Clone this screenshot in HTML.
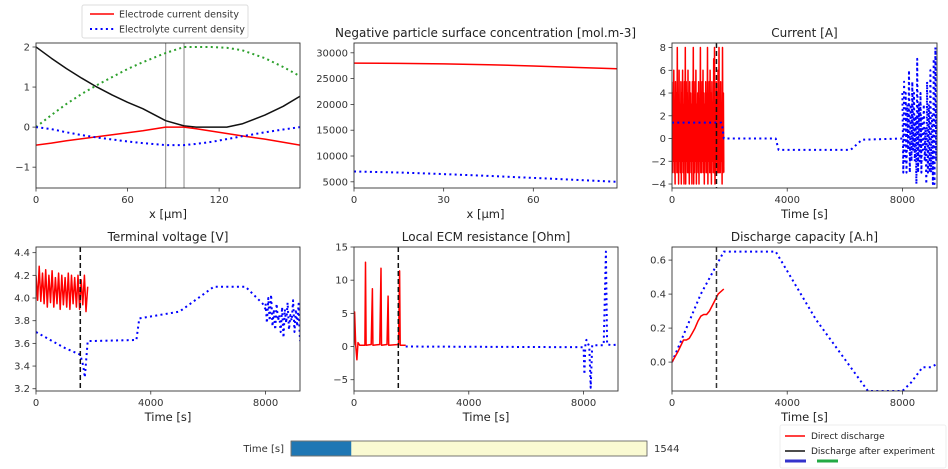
<!DOCTYPE html>
<html><head><meta charset="utf-8"><style>
body{margin:0;background:#fff;}
svg{display:block;font-family:"DejaVu Sans","Liberation Sans",sans-serif;}
</style></head><body>
<svg id="fig" width="948" height="469" viewBox="0 0 948 469"></svg>
<script>
// ---- data ----
const p1X=[0,10,20,30,40,50,60,70,85,97,105,115,125,135,150,162,173];
const p1Black=[2,1.72,1.46,1.22,1.0,0.8,0.62,0.46,0.16,0.03,0,0,0,0.08,0.3,0.52,0.77];
const p1Green=[0,0.3,0.58,0.83,1.05,1.25,1.45,1.62,1.85,2,2,2,1.98,1.92,1.72,1.5,1.27];
const p1Red=[-0.45,-0.4,-0.34,-0.29,-0.24,-0.19,-0.14,-0.09,0,0,-0.04,-0.1,-0.16,-0.22,-0.3,-0.38,-0.45];
const p1Blue=[0,-0.05,-0.13,-0.2,-0.26,-0.31,-0.36,-0.4,-0.45,-0.45,-0.42,-0.37,-0.3,-0.23,-0.13,-0.06,0];
const p1VLines=[85,97];
const p2X=[0,15,30,45,60,75,88];
const p2Red=[28000,27950,27850,27700,27450,27150,26900];
const p2Blue=[7000,6800,6500,6150,5750,5350,5000];
const curRed=[5,-3,4,-2,6,-3,3,-4,5,-2,4,-3,8,-3,2,-4,6,-2,3,-3,5,-4,4,-2,6,-3,3,-4,5,-2,8,-4,5,-2,4,-3,6,-3,3,-4,5,-2,4,-3,3,-4,5,-2,8,-4,2,-3,5,-2,6,-4,3,-2,4,-3,5,-4,3,-2,8,-3,4,-3,5,-2,6,-3,4,-4,3,-2,5,-3,4,-3,8,-4,3,-2,5,-3,6,-3,4,-4,5,-2,3,-3,7,-3,8,-4,3,-3,5,-2,4,-3,6,-3,8,-3,4,-3,5,-2,3,-4,8,-3,4,-3];
const curBlueT=[0,1700,1750,1800,3600,3700,6200,6600,8000];
const curBlueV=[1.4,1.4,1.0,0,0,-1,-1,-0.1,0];
const curBlueNoise=[4,-3,5,-2,4,-3,3,-1,6,-3,3,-2,5,-1,4,-2,2,-4,7,-3,3,-2,4,-3,2,-1,3,-2,1,-4,5,-3,3,-3,6,-3,2,-4,7,-4,8,-2,3];
const vRed=[4.2,3.98,4.28,3.97,4.22,3.95,4.25,3.92,4.2,3.96,4.24,3.92,4.18,3.95,4.22,3.9,4.2,3.94,4.18,3.92,4.22,3.9,4.2,3.95,4.18,3.92,4.2,3.9,4.16,3.94,4.2,3.88,4.1];
const vBlueT=[0,500,1000,1544,1650,1700,1800,3500,3600,5000,6200,7300,7900,8000];
const vBlueV=[3.7,3.63,3.56,3.5,3.4,3.3,3.62,3.63,3.82,3.88,4.1,4.1,3.95,3.9];
const vBlueNoise=[3.95,3.78,4.0,3.8,4.03,3.75,3.9,3.72,3.95,3.8,3.85,3.7,3.92,3.65,3.9,3.78,3.96,3.72,3.85,3.8,3.98,3.7,3.9,3.75,3.95,3.62];
const ecmRedT=[0,20,60,100,140,200,380,400,420,600,640,660,900,940,960,1150,1190,1210,1550,1590,1610,1800];
const ecmRedV=[0.2,5.2,0.2,-2,0.6,0.2,0.2,12.7,0.2,0.3,8.7,0.2,0.3,11.8,0.2,0.3,7.6,0.2,0.3,11.4,0.2,0.2];
const ecmBlueT=[1800,8000,8030,8060,8100,8200,8250,8300,8700,8780,8820,9000,9200];
const ecmBlueV=[0,-0.1,-4.2,0.1,1.0,0,-6.2,0.2,0.2,14.3,0.3,0.2,0.3];
const capBlueT=[0,500,1000,1544,1800,3600,5000,6800,8000,8300,8700,9000,9200];
const capBlueV=[0,0.2,0.4,0.57,0.65,0.65,0.25,-0.17,-0.17,-0.12,-0.03,-0.03,-0.01];
const capRedT=[0,200,400,500,600,700,800,900,1000,1100,1200,1300,1450,1600,1800];
const capRedV=[0,0.06,0.13,0.13,0.14,0.17,0.2,0.24,0.27,0.28,0.28,0.3,0.35,0.4,0.43];
const cutTime=1544;
const tMax=9200;

const NS="http://www.w3.org/2000/svg";
const fig=document.getElementById('fig');
function mk(tag,attrs,parent,text){const e=document.createElementNS(NS,tag);for(const k in attrs)e.setAttribute(k,attrs[k]);if(text!==undefined)e.textContent=text;(parent||fig).appendChild(e);return e;}

function panel(name,x0,y0,x1,y1,xmin,xmax,ymin,ymax,xt,yt,title,xlabel){
  const g=mk('g',{});
  
  
  const sx=v=>x0+(v-xmin)/(xmax-xmin)*(x1-x0);
  const sy=v=>y1-(v-ymin)/(ymax-ymin)*(y1-y0);
  const cid='c'+name;
  const cp=mk('clipPath',{id:cid},g);mk('rect',{x:x0,y:y0,width:x1-x0,height:y1-y0},cp);
  const plot=mk('g',{'clip-path':'url(#'+cid+')'},g);
  xt.forEach(t=>{const x=sx(t);mk('line',{x1:x,x2:x,y1:y1,y2:y1+3.5,stroke:'#333','stroke-width':0.8},g);
    const tx=mk('text',{x:x,y:y1+15,'font-size':10,'text-anchor':'middle',fill:'#333'},g,String(t));
    });
  yt.forEach(t=>{const y=sy(t);mk('line',{x1:x0-3.5,x2:x0,y1:y,y2:y,stroke:'#333','stroke-width':0.8},g);
    const tx=mk('text',{x:x0-6,y:y+3.5,'font-size':10,'text-anchor':'end',fill:'#333'},g,String(t).replace('-','\u2212'));
    });
  const tt=mk('text',{x:(x0+x1)/2,y:y0-6,'font-size':12,'text-anchor':'middle',fill:'#222'},g,title);
  
  if(xlabel){const xl=mk('text',{x:(x0+x1)/2,y:y1+30,'font-size':11.5,'text-anchor':'middle',fill:'#222'},g,xlabel);
    }
  const fr=mk('rect',{x:x0,y:y0,width:x1-x0,height:y1-y0,fill:'none',stroke:'#333','stroke-width':0.9},g);
  
  return {g,plot,sx,sy,y0,y1};
}
function line(P,xs,ys,color,style,name){
  const pts=xs.map((x,i)=>P.sx(x).toFixed(1)+','+P.sy(ys[i]).toFixed(1)).join(' ');
  const a={points:pts,fill:'none',stroke:color,'stroke-width':style==='dot'?2:1.5,'stroke-linejoin':'round'};
  if(style==='dot'){a['stroke-dasharray']='2 3.3';}
  if(style==='dash'){a['stroke-dasharray']='5 3';}
  const e=mk('polyline',a,P.plot);
  
  
  return e;
}
function spread(n,a,b){return Array.from({length:n},(_,i)=>a+(b-a)*i/(n-1));}
function vline(P,x,color,style,name){
  const e=mk('line',{x1:P.sx(x),x2:P.sx(x),y1:P.y0,y2:P.y1,stroke:color,'stroke-width':style==='dash'?1.5:1,'stroke-dasharray':style==='dash'?'5 3':'none'},P.plot);
  
  
}

// Panel 1
const A=panel('current-density-panel',36,43,300,188,0,173,-1.52,2.1,[0,60,120],[-1,0,1,2],'','x [\u03bcm]');
p1VLines.forEach(v=>vline(A,v,'#888','solid','separator-line'));
line(A,p1X,p1Green,'#2ca02c','dot','green-dotted-series');
line(A,p1X,p1Black,'#111','solid','black-series');
line(A,p1X,p1Red,'red','solid','electrode-current-line');
line(A,p1X,p1Blue,'blue','dot','electrolyte-current-line');

// Panel 2
const B=panel('surface-concentration-panel',354,43,617,188,0,88,3800,31900,[0,30,60],[5000,10000,15000,20000,25000,30000],'Negative particle surface concentration [mol.m-3]','x [\u03bcm]');
line(B,p2X,p2Red,'red','solid','red-concentration-line');
line(B,p2X,p2Blue,'blue','dot','blue-concentration-line');

// Panel 3
const C=panel('current-panel',672,43,937,188,0,tMax,-4.35,8.4,[0,4000,8000],[-4,-2,0,2,4,6,8],'Current [A]','Time [s]');
line(C,spread(curRed.length,0,1800),curRed,'red','solid','current-direct-line');
line(C,curBlueT,curBlueV,'blue','dot','current-experiment-line');
line(C,spread(curBlueNoise.length,8000,tMax),curBlueNoise,'blue','dot','current-experiment-noise');
vline(C,cutTime,'#111','dash','current-time-marker');

// Panel 4
const D=panel('voltage-panel',36,247,300,391,0,tMax,3.18,4.45,[0,4000,8000],['3.2','3.4','3.6','3.8','4.0','4.2','4.4'],'Terminal voltage [V]','Time [s]');
line(D,spread(vRed.length,0,1800),vRed,'red','solid','voltage-direct-line');
line(D,vBlueT,vBlueV,'blue','dot','voltage-experiment-line');
line(D,spread(vBlueNoise.length,8000,tMax),vBlueNoise,'blue','dot','voltage-experiment-noise');
vline(D,cutTime,'#111','dash','voltage-time-marker');

// Panel 5
const E=panel('ecm-resistance-panel',354,247,618,391,0,tMax,-6.7,15,[0,4000,8000],[-5,0,5,10,15],'Local ECM resistance [Ohm]','Time [s]');
line(E,ecmBlueT,ecmBlueV,'blue','dot','ecm-experiment-line');
line(E,ecmRedT,ecmRedV,'red','solid','ecm-direct-line');
vline(E,cutTime,'#111','dash','ecm-time-marker');

// Panel 6
const F=panel('discharge-capacity-panel',672,247,937,391,0,tMax,-0.17,0.677,[0,4000,8000],['0.0','0.2','0.4','0.6'],'Discharge capacity [A.h]','Time [s]');
line(F,capBlueT,capBlueV,'blue','dot','capacity-experiment-line');
line(F,capRedT,capRedV,'red','solid','capacity-direct-line');
vline(F,cutTime,'#333','dash','capacity-time-marker');

// Top-left legend
const L1=mk('g',{});


mk('rect',{x:82,y:5,width:166,height:33,fill:'#fff',stroke:'#ddd',rx:2},L1);
mk('line',{x1:90,x2:114,y1:14,y2:14,stroke:'red','stroke-width':1.5},L1);
mk('text',{x:119,y:17.5,'font-size':9.5,fill:'#333'},L1,'Electrode current density');
mk('line',{x1:90,x2:114,y1:29,y2:29,stroke:'blue','stroke-width':2,'stroke-dasharray':'2 3.3'},L1);
mk('text',{x:119,y:32.5,'font-size':9.5,fill:'#333'},L1,'Electrolyte current density');

// Time slider
const S=mk('g',{});


mk('text',{x:284,y:452,'font-size':10,'text-anchor':'end',fill:'#333'},S,'Time [s]');
mk('rect',{x:291,y:441,width:356,height:15,fill:'#fafad2',stroke:'#555','stroke-width':0.8},S);
const fill=mk('rect',{x:291.5,y:441.5,width:(cutTime/tMax)*356,height:14,fill:'#1f77b4'},S);


mk('text',{x:654,y:452,'font-size':10,fill:'#333'},S,String(cutTime));

// Bottom-right legend
const L2=mk('g',{});


mk('rect',{x:780,y:425,width:166,height:43,fill:'#fff',stroke:'#eee',rx:2},L2);
mk('line',{x1:785,x2:805,y1:436,y2:436,stroke:'red','stroke-width':1.5},L2);
mk('text',{x:811,y:439,'font-size':9,fill:'#222'},L2,'Direct discharge');
mk('line',{x1:785,x2:805,y1:451,y2:451,stroke:'#111','stroke-width':1.5},L2);
mk('text',{x:811,y:454,'font-size':9,fill:'#222'},L2,'Discharge after experiment');
mk('line',{x1:785,x2:806,y1:461,y2:461,stroke:'#3333cc','stroke-width':3},L2);
mk('line',{x1:817,x2:838,y1:461,y2:461,stroke:'#22aa44','stroke-width':3},L2);
</script>
</body></html>
